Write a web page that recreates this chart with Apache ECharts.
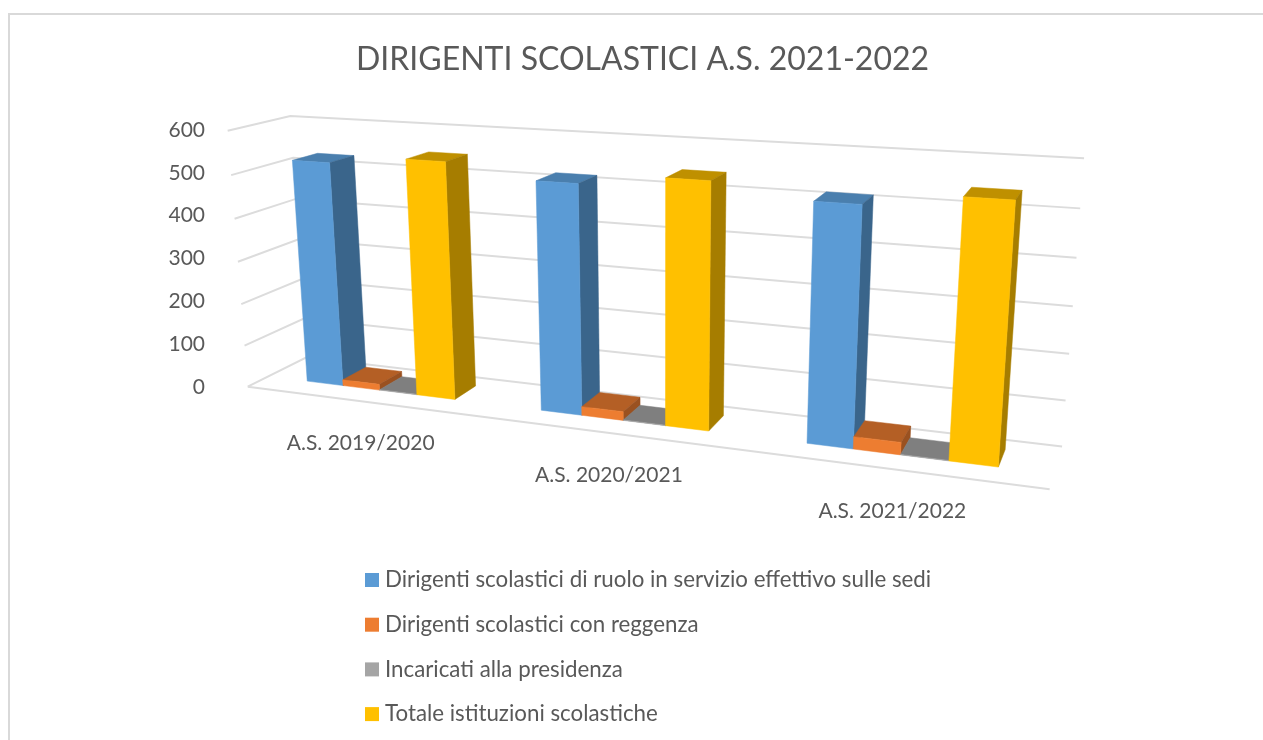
<!DOCTYPE html>
<html><head><meta charset="utf-8">
<style>html,body{margin:0;padding:0;background:#fff}#c{width:1263px;height:740px}</style>
<script src="https://cdn.jsdelivr.net/npm/echarts@6/dist/echarts.min.js"></script>
</head><body><div id="c"></div>
<script>
const titleText = 'DIRIGENTI SCOLASTICI A.S. 2021-2022';
const categories = ['A.S. 2019/2020','A.S. 2020/2021','A.S. 2021/2022'];
const ticks = [0,100,200,300,400,500,600];
const ruolo = [526,516,512];
const reggenza = [14,20,27];
const incaricati = [1,1,1];
const totale = [545,540,540];
const seriesNames = ['Dirigenti scolastici di ruolo in servizio effettivo sulle sedi','Dirigenti scolastici con reggenza','Incaricati alla presidenza','Totale istituzioni scolastiche'];
const seriesValues = [ruolo,reggenza,incaricati,totale];
const palette = [
 {front:'#5B9BD5',top:'#4A7FAE',side:'#3A658B'},
 {front:'#ED7D31',top:'#B45F25',side:'#9A5120'},
 {front:'#A5A5A5',top:'#7F7F7F',side:'#6E6E6E'},
 {front:'#FFC000',top:'#BF9000',side:'#A67D00'}
];

// Calibration of the oblique view: frame corners (X, Y, Z) -> pixel
const frame = [
 [0,0,0,306,357],[0,1,0,291,116],[1,1,0,1084,158],[1,0,0,1062,447],
 [0,0,1,248,387],[0,1,1,227,131],[1,0,1,1050,489],
 [1/6,0,1,361,401],[.5,0,1,609,433],[5/6,0,1,892,469]
];
function solve(A,b){
  const n=b.length, M=A.map((r,i)=>r.concat(b[i]));
  for(let i=0;i<n;i++){
    let p=i; for(let r=i+1;r<n;r++) if(Math.abs(M[r][i])>Math.abs(M[p][i])) p=r;
    [M[i],M[p]]=[M[p],M[i]];
    for(let r=0;r<n;r++){ if(r===i) continue; const f=M[r][i]/M[i][i]; for(let c=i;c<=n;c++) M[r][c]-=f*M[i][c]; }
  }
  return M.map((r,i)=>r[n]/r[i]);
}
const P=(function(){
  const rows=[],rhs=[];
  frame.forEach(([X,Y,Z,x,y])=>{
    rows.push([1,X,Y,Z,0,0,0,0,-x*X,-x*Y,-x*Z]);rhs.push(x);
    rows.push([0,0,0,0,1,X,Y,Z,-y*X,-y*Y,-y*Z]);rhs.push(y);
  });
  const N=11,A=[],b=[];
  for(let i=0;i<N;i++){A.push(new Array(N).fill(0));b.push(0);
    rows.forEach((r,k)=>{for(let j=0;j<N;j++)A[i][j]+=r[i]*r[j];b[i]+=r[i]*rhs[k];});}
  return solve(A,b);
})();
function project(X,Y,Z){
  const d=1+P[8]*X+P[9]*Y+P[10]*Z;
  return [(P[0]+P[1]*X+P[2]*Y+P[3]*Z)/d,(P[4]+P[5]*X+P[6]*Y+P[7]*Z)/d];
}
const groupFrac=0.645, zFront=0.66, zBack=0.24;

function barRenderer(si){
  return function(params,api){
    const cs=params.coordSys;
    const c=api.coord([api.value(0),api.value(1)]);
    const base=api.coord([api.value(0),0]);
    const cx=(c[0]-cs.x)/cs.width;
    const Y=(base[1]-c[1])/cs.height;
    const gw=groupFrac/3, bw=gw/4;
    const x0=cx-gw/2+si*bw, x1=x0+bw;
    const p=(X,V,Z)=>project(X,V,Z);
    const col=palette[si];
    const poly=(pts,fill)=>({type:'polygon',shape:{points:pts},style:{fill:fill,stroke:fill,lineWidth:0.5}});
    return {type:'group',children:[
      poly([p(x0,Y,zBack),p(x1,Y,zBack),p(x1,Y,zFront),p(x0,Y,zFront)],col.top),
      poly([p(x1,0,zBack),p(x1,Y,zBack),p(x1,Y,zFront),p(x1,0,zFront)],col.side),
      poly([p(x0,0,zFront),p(x1,0,zFront),p(x1,Y,zFront),p(x0,Y,zFront)],col.front)
    ]};
  };
}
const barSeries=seriesNames.map((name,si)=>({
  name:name,type:'custom',coordinateSystem:'cartesian2d',clip:false,z:3,
  itemStyle:{color:si===2?'#A5A5A5':palette[si].front},
  encode:{x:0,y:1},
  data:seriesValues[si].map((v,i)=>[i,v]),
  renderItem:barRenderer(si)
}));
const wallSeries={
  type:'custom',name:'griglia',coordinateSystem:'cartesian2d',clip:false,silent:true,z:1,
  encode:{x:0,y:1},
  data:ticks.map(t=>[0,t]),
  renderItem(params,api){
    const cs=params.coordSys;
    const c=api.coord([api.value(0),api.value(1)]);
    const Y=(cs.y+cs.height-c[1])/cs.height;
    const st={stroke:'#DCDCDC',lineWidth:2,fill:null};
    const kids=[{type:'polyline',shape:{points:[project(0,Y,1),project(0,Y,0),project(1,Y,0)]},style:st}];
    if(api.value(1)===0) kids.push({type:'line',shape:{x1:project(0,0,1)[0],y1:project(0,0,1)[1],x2:project(1,0,1)[0],y2:project(1,0,1)[1]},style:st});
    return {type:'group',children:kids};
  }
};
const labelSeries={
  type:'custom',name:'etichette',coordinateSystem:'cartesian2d',clip:false,silent:true,z:4,
  encode:{x:0,y:1},
  data:categories.map((c,i)=>[i,0]),
  renderItem(params,api){
    const cs=params.coordSys;
    const c=api.coord([api.value(0),0]);
    const p=project((c[0]-cs.x)/cs.width,0,1);
    return {type:'text',x:p[0],y:p[1]+42.5,style:{text:categories[api.value(0)],fill:'#595959',font:'21px Lato',align:'center',verticalAlign:'middle'}};
  }
};
const chart=echarts.init(document.getElementById('c'),null,{renderer:'canvas'});
chart.setOption({
  animation:false,
  backgroundColor:'#fff',
  title:{text:titleText,left:351,top:39,textStyle:{fontFamily:'Lato',fontSize:32,fontWeight:'normal',color:'#595959'}},
  legend:{data:seriesNames,orient:'vertical',left:360,top:564,itemWidth:14,itemHeight:14,itemGap:22.7,icon:'rect',
    textStyle:{fontFamily:'Lato',fontSize:22.3,color:'#595959',padding:[0,0,0,1]},selectedMode:false},
  grid:{left:209,top:130,width:800,height:257,containLabel:false},
  xAxis:{type:'category',data:categories,show:false},
  yAxis:{type:'value',min:0,max:600,interval:100,
    axisLine:{show:false},axisTick:{show:false},splitLine:{show:false},
    axisLabel:{margin:4,fontFamily:'Lato',fontSize:21,color:'#595959',padding:[6,0,0,0]}},
  graphic:[
    {type:'line',silent:true,z:0,shape:{x1:9,y1:740,x2:9,y2:14},style:{stroke:'#D9D9D9',lineWidth:2}},
    {type:'line',silent:true,z:0,shape:{x1:8,y1:14,x2:1263,y2:14},style:{stroke:'#D9D9D9',lineWidth:2}}
  ],
  series:[wallSeries].concat(barSeries,[labelSeries])
});
</script></body></html>
